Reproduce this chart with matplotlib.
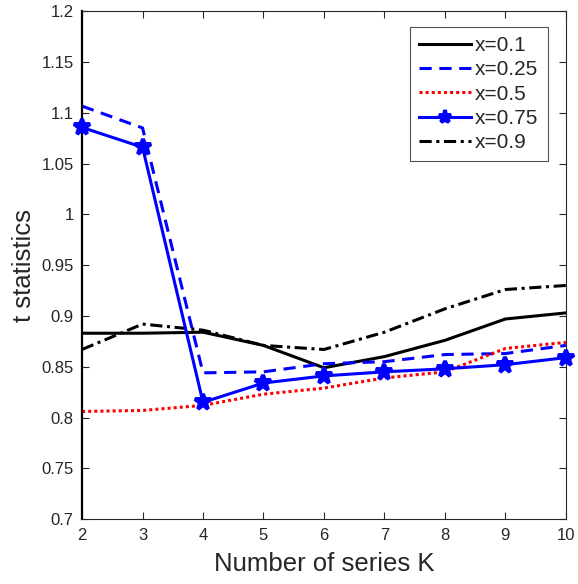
import matplotlib
matplotlib.use("Agg")
import matplotlib.pyplot as plt

plt.rcParams['font.family'] = ['Liberation Sans', 'DejaVu Sans']

K = [2, 3, 4, 5, 6, 7, 8, 9, 10]
labels = ["x=0.1", "x=0.25", "x=0.5", "x=0.75", "x=0.9"]
t_01 = [0.883, 0.883, 0.884, 0.871, 0.849, 0.860, 0.876, 0.897, 0.903]
t_025 = [1.1065, 1.085, 0.844, 0.845, 0.853, 0.855, 0.862, 0.863, 0.871]
t_05 = [0.806, 0.807, 0.812, 0.823, 0.829, 0.839, 0.845, 0.868, 0.874]
t_075 = [1.0855, 1.066, 0.815, 0.834, 0.841, 0.845, 0.848, 0.852, 0.859]
t_09 = [0.867, 0.892, 0.886, 0.871, 0.867, 0.884, 0.907, 0.926, 0.930]

fig = plt.figure(figsize=(5.78, 5.84), dpi=100)
ax = fig.add_axes([0.142, 0.111, 0.837, 0.870])

lw = 2.2
ax.plot(K, t_01, color='black', linestyle='-', linewidth=lw, label=labels[0])
ax.plot(K, t_025, color='blue', linestyle=(0, (4, 2.5)), linewidth=lw, label=labels[1])
ax.plot(K, t_05, color='red', linestyle=(0, (1, 1)), linewidth=lw, label=labels[2])
ax.plot(K, t_075, color='blue', linestyle='-', linewidth=lw, marker='*',
        markersize=12, markeredgewidth=2.8, label=labels[3], clip_on=False, zorder=3)
ax.plot(K, t_09, color='black', linestyle=(0, (4, 1.5, 1, 1.5)), linewidth=lw, label=labels[4])

ax.set_xlim(2, 10)
ax.set_ylim(0.7, 1.2)
ax.set_xticks(K)
ax.set_yticks([0.7, 0.75, 0.8, 0.85, 0.9, 0.95, 1.0, 1.05, 1.1, 1.15, 1.2])
ax.set_yticklabels(['0.7', '0.75', '0.8', '0.85', '0.9', '0.95', '1', '1.05', '1.1', '1.15', '1.2'])
ax.tick_params(direction='in', top=True, right=True, length=5, width=0.8,
               colors='#262626', labelsize=12, pad=6)
for s in ax.spines.values():
    s.set_color('#262626')
    s.set_linewidth(0.8)
ax.spines['left'].set_color('black')
ax.spines['left'].set_linewidth(1.6)

ax.set_xlabel("Number of series K", fontsize=18.5, color='#262626', labelpad=7)
ax.set_ylabel("t statistics", fontsize=18.5, color='#262626', labelpad=4)

leg = ax.legend(loc='upper right', bbox_to_anchor=(0.963, 0.969), fontsize=15,
                frameon=True, fancybox=False, handlelength=2.5, handletextpad=0.2,
                borderpad=0.45, labelspacing=0.25, borderaxespad=0, markerscale=0.8)
leg.get_frame().set_edgecolor('#262626')
leg.get_frame().set_linewidth(0.8)
for t in leg.get_texts():
    t.set_color('#262626')

fig.savefig("out.png", dpi=100)
